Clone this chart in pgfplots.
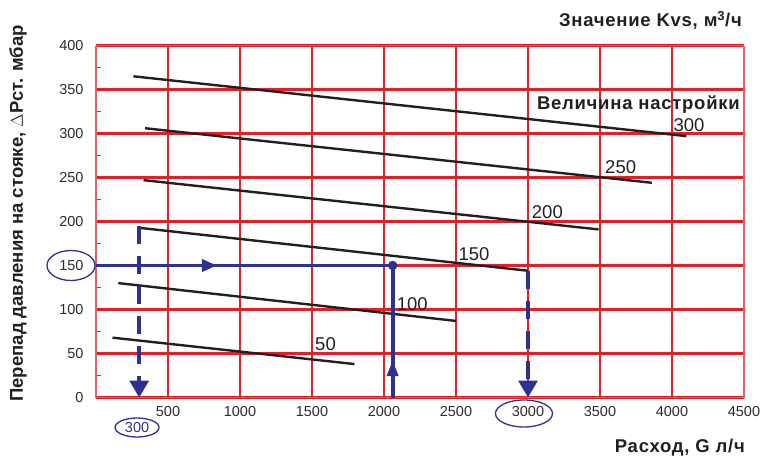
\documentclass[border=0pt]{standalone}
\usepackage{fontspec}
\setmainfont{Liberation Sans}
\newfontfamily\boldsp[LetterSpace=4]{Liberation Sans}
\usepackage{pgfplots}
\pgfplotsset{compat=1.18}
\usetikzlibrary{arrows.meta}
\definecolor{gridred}{HTML}{ED1C24}
\definecolor{framered}{HTML}{F05A60}
\definecolor{navy}{HTML}{2E3192}
\definecolor{ink}{HTML}{231F20}
\definecolor{ticktxt}{HTML}{2B2B2B}
\begin{document}
\begin{tikzpicture}[x=1pt,y=1pt]
\useasboundingbox (0,0) rectangle (771,456);
\begin{axis}[
  at={(96pt,58.5pt)}, anchor=south west,
  scale only axis, width=648pt, height=352pt,
  xmin=0, xmax=4500, ymin=0, ymax=400,
  xtick={500,1000,...,4500},
  ytick={0,50,...,400},
  minor y tick num=1,
  grid=major,
  major x grid style={draw=gridred, line width=1.7pt},
  major y grid style={draw=gridred, line width=2.1pt},
  separate axis lines,
  every outer x axis line/.append style={draw=framered, line width=1.6pt},
  every outer y axis line/.append style={draw=framered, line width=1.6pt},
  major tick length=0pt,
  minor tick length=5pt,
  tick align=inside,
  xtick pos=bottom, ytick pos=left,
  every tick/.append style={draw=gridred, line width=1.6pt},
  tick label style={font=\fontsize{14.5}{16}\selectfont, text=ticktxt},
  xticklabel style={yshift=-5pt},
  yticklabel style={xshift=-9pt},
  /pgf/number format/assume math mode=true,
  /pgf/number format/1000 sep={},
  clip=false,
]
% setting curves
\addplot[ink, line width=2.4pt] coordinates {(260,365) (4100,297)};
\addplot[ink, line width=2.4pt] coordinates {(340,306) (3860,244)};
\addplot[ink, line width=2.4pt] coordinates {(330,247) (3490,191)};
\addplot[ink, line width=2.4pt] coordinates {(290,193) (3000,144)};
\addplot[ink, line width=2.4pt] coordinates {(155,130) (2500,87)};
\addplot[ink, line width=2.4pt] coordinates {(115,68) (1795,38)};
% curve labels
\begin{scope}[every node/.style={font=\fontsize{18.5}{20}\selectfont, text=ink, inner sep=0pt, anchor=base west}]
\node at (axis cs:4010,302) {300};
\node at (axis cs:3535,254) {250};
\node at (axis cs:3026,203.6) {200};
\node at (axis cs:2516,156) {150};
\node at (axis cs:2088,98.3) {100};
\node at (axis cs:1521,53) {50};
\end{scope}
\node[font=\boldsp\bfseries\fontsize{18.5}{20}\selectfont, text=ink, inner sep=0pt, anchor=base east] at (axis cs:4472,327.5) {Величина настройки};
% example path
\addplot[draw=navy, line width=3.8pt] coordinates {(0,150) (2060,150) (2060,0)};
\addplot[draw=navy, fill=navy, line width=3.5pt, -{Triangle[width=12pt,length=15pt]}] coordinates {(600,150) (840,150)};
\addplot[draw=navy, fill=navy, line width=3.5pt, -{Triangle[width=11pt,length=16pt]}] coordinates {(2060,10) (2060,42.5)};
\addplot[navy, only marks, mark=*, mark size=4.5pt, mark options={fill=navy, draw=navy}] coordinates {(2060,150)};
\addplot[draw=navy, line width=3.6pt, dash pattern=on 18pt off 12pt] coordinates {(300,195) (300,16)};
\addplot[draw=navy, fill=navy, line width=3.5pt, -{Triangle[width=19pt,length=17pt]}] coordinates {(300,16) (300,0)};
\addplot[draw=navy, line width=3.6pt, dash pattern=on 18pt off 12pt] coordinates {(3000,144) (3000,16)};
\addplot[draw=navy, fill=navy, line width=3.5pt, -{Triangle[width=19pt,length=17pt]}] coordinates {(3000,16) (3000,0)};
% ellipses
\draw[navy, line width=1.3pt] (axis cs:0,150) ++(-25pt,0pt) ellipse [x radius=24pt, y radius=15pt];
\draw[navy, line width=1.3pt] (axis cs:285,0) ++(0pt,-30pt) ellipse [x radius=22pt, y radius=9.5pt];
\node[font=\fontsize{14.5}{16}\selectfont, text=navy, inner sep=0pt] at ([yshift=-30pt]axis cs:285,0) {300};
\draw[navy, line width=1.3pt] (axis cs:2972,0) ++(0pt,-16pt) ellipse [x radius=28.5pt, y radius=13.5pt];
\end{axis}
\node[font=\boldsp\bfseries\fontsize{18.5}{20}\selectfont, text=ink, inner sep=0pt, anchor=base east] at (742,429.5) {Значение Kvs, м\textsuperscript{3}/ч};
\node[font=\boldsp\bfseries\fontsize{18.5}{20}\selectfont, text=ink, inner sep=0pt, anchor=base east] at (745,3.5) {Расход, G л/ч};
\node[font=\bfseries\fontsize{18.5}{20}\selectfont, text=ink, inner sep=0pt, rotate=90] at (18,242.5) {Перепад давления на стояке, $\Delta$Рст. мбар};
\end{tikzpicture}
\end{document}
